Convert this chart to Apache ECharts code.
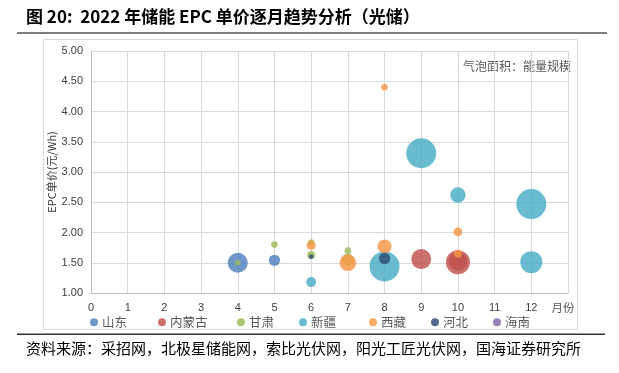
<!DOCTYPE html>
<html><head><meta charset="utf-8">
<script src="https://cdn.jsdelivr.net/npm/echarts@6/dist/echarts.min.js"></script>
<style>html,body{margin:0;padding:0;background:#fff}#c{width:619px;height:373px}</style>
</head><body><div id="c"></div>
<script>
// ---- data ----
const provinces = ['山东','内蒙古','甘肃','新疆','西藏','河北','海南'];
// month, EPC price (元/Wh), energy scale (bubble area)
const shandongMonth = [4, 5];
const shandongPrice = [1.50, 1.54];
const shandongEnergy = [400, 128];
const neimengMonth = [9, 10, 10];
const neimengPrice = [1.56, 1.51, 1.53];
const neimengEnergy = [400, 576, 350];
const gansuMonth = [4, 5, 6, 6, 7, 7];
const gansuPrice = [1.50, 1.80, 1.84, 1.63, 1.70, 1.55];
const gansuEnergy = [28, 44, 36, 64, 44, 150];
const xinjiangMonth = [6, 8, 9, 10, 12, 12];
const xinjiangPrice = [1.18, 1.44, 3.31, 2.62, 2.47, 1.51];
const xinjiangEnergy = [100, 900, 900, 237, 900, 484];
const xizangMonth = [6, 7, 8, 8, 10, 10];
const xizangPrice = [1.79, 1.50, 1.77, 4.40, 2.01, 1.65];
const xizangEnergy = [87, 278, 196, 44, 75, 64];
const hebeiMonth = [6, 8];
const hebeiPrice = [1.60, 1.57];
const hebeiEnergy = [22, 128];
const hainanMonth = [];
const hainanPrice = [];
const hainanEnergy = [];
const xTicks = [0,1,2,3,4,5,6,7,8,9,10,11,12];
const yTicks = [1.00,1.50,2.00,2.50,3.00,3.50,4.00,4.50,5.00];

const seriesData = [
  [shandongMonth, shandongPrice, shandongEnergy],
  [neimengMonth, neimengPrice, neimengEnergy],
  [gansuMonth, gansuPrice, gansuEnergy],
  [xinjiangMonth, xinjiangPrice, xinjiangEnergy],
  [xizangMonth, xizangPrice, xizangEnergy],
  [hebeiMonth, hebeiPrice, hebeiEnergy],
  [hainanMonth, hainanPrice, hainanEnergy]
];
const colors = ['#4F81BD','#C0504D','#9BBB59','#4BACC6','#F79646','#2C4D75','#8064A2'];
const legendX = [85, 153, 232, 294, 364, 426, 488];

const cjk = '"Noto Sans CJK SC", sans-serif';
const num = '"Liberation Sans", Arial, sans-serif';

const series = provinces.map((p, i) => ({
  name: p,
  type: 'scatter',
  data: seriesData[i][0].map((m, k) => [m, seriesData[i][1][k], seriesData[i][2][k]]),
  symbolSize: d => Math.sqrt(d[2]),
  itemStyle: { color: colors[i], opacity: 0.82 },
  emphasis: { disabled: true }
}));

const legends = provinces.map((p, i) => ({
  data: [{ name: p, icon: 'circle' }],
  left: legendX[i], top: 311,
  itemWidth: 8, itemHeight: 8, itemGap: 0,
  textStyle: { fontFamily: cjk, fontSize: 12.5, color: '#595959', padding: [0,0,0,-1] }
}));

const chart = echarts.init(document.getElementById('c'), null, { renderer: 'canvas' });
chart.setOption({
  animation: false,
  color: colors,
  grid: { left: 91, right: 51, top: 51, bottom: 80, containLabel: false },
  xAxis: {
    type: 'value', min: 0, max: 13, interval: 1,
    axisLine: { show: true, lineStyle: { color: '#bfbfbf' } },
    axisTick: { show: false },
    splitLine: { show: true, lineStyle: { color: '#d9d9d9', width: 1 } },
    axisLabel: {
      color: '#404040', fontSize: 11, fontFamily: num, margin: 9,
      formatter: v => (v === 13 ? '{u|月份}' : (xTicks.indexOf(v) >= 0 ? String(v) : '')),
      rich: { u: { fontFamily: cjk, fontSize: 11.5, color: '#595959', padding: [0, 10, 4, 0] } }
    }
  },
  yAxis: {
    type: 'value', min: 1, max: 5, interval: 0.5,
    name: 'EPC单价(元/Wh)', nameLocation: 'middle', nameGap: 34, nameRotate: 90,
    nameMoveOverlap: false,
    nameTextStyle: { fontFamily: cjk, fontSize: 11, color: '#404040' },
    axisLine: { show: true, lineStyle: { color: '#bfbfbf' } },
    axisTick: { show: false },
    splitLine: { show: true, lineStyle: { color: '#d9d9d9', width: 1 } },
    axisLabel: {
      color: '#404040', fontSize: 11, fontFamily: num, margin: 8,
      formatter: v => (yTicks.indexOf(Math.round(v*100)/100) >= 0 ? v.toFixed(2) : '')
    }
  },
  legend: legends,
  series: series,
  graphic: [
    { type: 'text', left: 26, top: 8, style: { text: '图 20:  2022 年储能 EPC 单价逐月趋势分析（光储）', font: 'bold 17px ' + cjk, fill: '#000' } },
    { type: 'rect', shape: { x: 17, y: 32, width: 590, height: 2 }, style: { fill: '#7f7f7f' } },
    { type: 'rect', shape: { x: 43.5, y: 39.5, width: 534, height: 290 }, style: { fill: 'none', stroke: '#d9d9d9', lineWidth: 1 }, z: -1 },
    { type: 'rect', shape: { x: 17, y: 333.5, width: 588, height: 1.5 }, style: { fill: '#333' } },
    { type: 'text', left: 26, top: 341, style: { text: '资料来源：采招网，北极星储能网，索比光伏网，阳光工匠光伏网，国海证券研究所', font: '15px ' + cjk, fill: '#000' } },
    { type: 'text', left: 463, top: 60, style: { text: '气泡面积：能量规模', font: '12px ' + cjk, fill: '#595959' } }
  ]
});
</script></body></html>
